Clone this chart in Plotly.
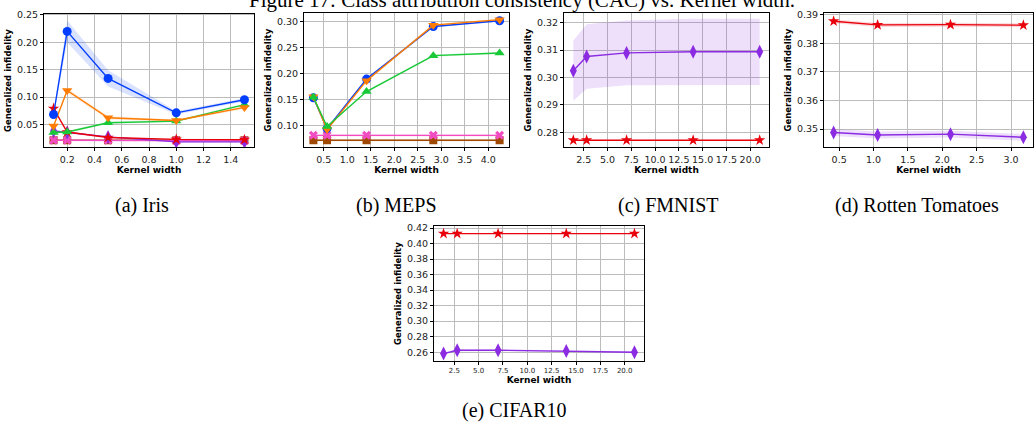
import plotly.graph_objects as go

W, H = 1034, 428

# ---------------- data ----------------
iris_x = [0.1, 0.2, 0.5, 1.0, 1.5]
iris_blue = [0.068, 0.220, 0.134, 0.071, 0.095]
iris_blue_sd = [0.003, 0.020, 0.015, 0.003, 0.003]
iris_orange = [0.047, 0.112, 0.062, 0.057, 0.081]
iris_orange_sd = [0.002, 0.004, 0.003, 0.002, 0.003]
iris_green = [0.035, 0.036, 0.053, 0.056, 0.086]
iris_green_sd = [0.002, 0.002, 0.002, 0.002, 0.002]
iris_red = [0.079, 0.036, 0.026, 0.0225, 0.022]
iris_red_sd = [0.002, 0.002, 0.001, 0.001, 0.001]
iris_purple = [0.038, 0.035, 0.027, 0.018, 0.018]
iris_purple_sd = [0.002, 0.002, 0.001, 0.001, 0.001]
iris_brown = [0.021, 0.021, 0.021, 0.021, 0.021]
iris_brown_sd = [0.001, 0.001, 0.001, 0.001, 0.001]
iris_pink = [0.021, 0.021, 0.021, 0.020, 0.020]
iris_pink_sd = [0.001, 0.001, 0.001, 0.001, 0.001]

meps_x = [0.28, 0.57, 1.41, 2.83, 4.24]
meps_blue = [0.154, 0.095, 0.190, 0.291, 0.302]
meps_orange = [0.156, 0.093, 0.187, 0.2935, 0.304]
meps_green = [0.155, 0.099, 0.166, 0.235, 0.240]
meps_pink = [0.082, 0.082, 0.082, 0.082, 0.082]
meps_brown = [0.0725, 0.0725, 0.0725, 0.0725, 0.0725]
meps_sd = [0.002, 0.002, 0.002, 0.002, 0.002]

fm_x = [1.4, 2.8, 7.0, 14.0, 21.0]
fm_purple = [0.3025, 0.3077, 0.3090, 0.3094, 0.3094]
fm_purple_sd = [0.0110, 0.0118, 0.0118, 0.0121, 0.0121]
fm_red = [0.2771, 0.2771, 0.2771, 0.2771, 0.2771]
fm_red_sd = [0.0002, 0.0002, 0.0002, 0.0002, 0.0002]

rt_x = [0.42, 1.06, 2.12, 3.18]
rt_red = [0.3877, 0.3864, 0.3865, 0.3863]
rt_red_sd = [0.0007, 0.0007, 0.0007, 0.0007]
rt_purple = [0.3488, 0.3479, 0.3482, 0.3471]
rt_purple_sd = [0.0012, 0.0012, 0.0012, 0.0012]

cf_x = [1.4, 2.8, 7.0, 14.0, 21.0]
cf_red = [0.4129, 0.4129, 0.4129, 0.4129, 0.4129]
cf_red_sd = [0.0005, 0.0005, 0.0005, 0.0005, 0.0005]
cf_purple = [0.2582, 0.2625, 0.2625, 0.2616, 0.2600]
cf_purple_sd = [0.0012, 0.0012, 0.0012, 0.0012, 0.0012]

sub_captions = ["(a) Iris", "(b) MEPS", "(c) FMNIST", "(d) Rotten Tomatoes", "(e) CIFAR10"]
title_text = "Figure 17: Class attribution consistency (CAC) vs. Kernel width."

# ---------------- styles ----------------
COL = {
    "blue": "#023eff", "orange": "#ff7c00", "green": "#1ac938", "red": "#e8000b",
    "purple": "#8b2be2", "brown": "#9f4800", "pink": "#f14cc1",
}
SYM = {
    "blue": "circle", "orange": "triangle-down", "green": "triangle-up", "red": "star",
    "purple": "diamond-tall", "brown": "square", "pink": "x",
}
SIZE = {"blue": 9, "orange": 9, "green": 9, "red": 8.5, "purple": 10, "brown": 8, "pink": 8}


def rgba(hexc, a):
    h = hexc.lstrip("#")
    return "rgba(%d,%d,%d,%.2f)" % (int(h[0:2], 16), int(h[2:4], 16), int(h[4:6], 16), a)


fig = go.Figure()


def add_series(ax, x, y, sd, key):
    xa = "x" if ax == 1 else "x%d" % ax
    ya = "y" if ax == 1 else "y%d" % ax
    up = [a + b for a, b in zip(y, sd)]
    lo = [a - b for a, b in zip(y, sd)]
    fig.add_trace(go.Scatter(x=x, y=lo, mode="lines", line=dict(width=0), xaxis=xa, yaxis=ya,
                             showlegend=False, hoverinfo="skip"))
    fig.add_trace(go.Scatter(x=x, y=up, mode="lines", line=dict(width=0), fill="tonexty",
                             fillcolor=rgba(COL[key], 0.15), xaxis=xa, yaxis=ya,
                             showlegend=False, hoverinfo="skip"))
    fig.add_trace(go.Scatter(x=x, y=y, mode="lines+markers", xaxis=xa, yaxis=ya,
                             line=dict(color=COL[key], width=1.4),
                             marker=dict(symbol=SYM[key], size=SIZE[key], color=COL[key],
                                         line=dict(width=0)),
                             showlegend=False))


# panel a
add_series(1, iris_x, iris_brown, iris_brown_sd, "brown")
add_series(1, iris_x, iris_pink, iris_pink_sd, "pink")
add_series(1, iris_x, iris_purple, iris_purple_sd, "purple")
add_series(1, iris_x, iris_red, iris_red_sd, "red")
add_series(1, iris_x, iris_green, iris_green_sd, "green")
add_series(1, iris_x, iris_orange, iris_orange_sd, "orange")
add_series(1, iris_x, iris_blue, iris_blue_sd, "blue")
# panel b
add_series(2, meps_x, meps_brown, meps_sd, "brown")
add_series(2, meps_x, meps_pink, meps_sd, "pink")
add_series(2, meps_x, meps_blue, meps_sd, "blue")
add_series(2, meps_x, meps_orange, meps_sd, "orange")
add_series(2, meps_x, meps_green, meps_sd, "green")
# panel c
add_series(3, fm_x, fm_red, fm_red_sd, "red")
add_series(3, fm_x, fm_purple, fm_purple_sd, "purple")
# panel d
add_series(4, rt_x, rt_red, rt_red_sd, "red")
add_series(4, rt_x, rt_purple, rt_purple_sd, "purple")
# panel e
add_series(5, cf_x, cf_red, cf_red_sd, "red")
add_series(5, cf_x, cf_purple, cf_purple_sd, "purple")


def px_dom_x(a, b):
    return [a / W, b / W]


def px_dom_y(top, bottom):
    return [1 - bottom / H, 1 - top / H]


panels = [
    # (xdomain px, ydomain px, xrange, yrange, xdtick, ydtick, xfmt, yfmt, xtickfont)
    ((44, 254), (9, 144), [0.03, 1.57], [0.008, 0.252], 0.2, 0.05, ".1f", ".2f", 9.5),
    ((304, 509), (8, 144), [0.08, 4.44], [0.059, 0.317], 0.5, 0.05, ".1f", ".2f", 9.5),
    ((564, 769), (8, 144), [0.42, 21.98], [0.2745, 0.3236], 2.5, 0.01, ".1f", ".2f", 9.5),
    ((824, 1033), (8, 144), [0.28, 3.32], [0.3436, 0.3906], 0.5, 0.01, ".1f", ".2f", 9.5),
    ((434, 644), (224, 360), [0.42, 21.98], [0.2489, 0.4222], 2.5, 0.02, ".1f", ".2f", 7),
]

TICKFONT = dict(family="DejaVu Sans", size=9.5, color="#222222")
GRID = "#bcbcbc"

for i, (xd, yd, xr, yr, xdt, ydt, xf, yf, xfs) in enumerate(panels, start=1):
    xk = "xaxis" if i == 1 else "xaxis%d" % i
    yk = "yaxis" if i == 1 else "yaxis%d" % i
    anchor_x = "y" if i == 1 else "y%d" % i
    anchor_y = "x" if i == 1 else "x%d" % i
    fig.layout[xk] = dict(
        domain=px_dom_x(*xd), range=xr, anchor=anchor_x, tick0=0, dtick=xdt, tickformat=xf,
        showgrid=True, gridcolor=GRID, gridwidth=1.3, zeroline=False,
        showline=True, linecolor="black", linewidth=1, mirror=True,
        ticks="outside", ticklen=3, tickcolor="black",
        tickfont=dict(family="DejaVu Sans", size=xfs, color="#222222"),
        title=dict(text="<b>Kernel width</b>", standoff=2,
                   font=dict(family="DejaVu Sans", size=9, color="black")),
    )
    fig.layout[yk] = dict(
        domain=px_dom_y(*yd), range=yr, anchor=anchor_y, tick0=0, dtick=ydt, tickformat=yf,
        showgrid=True, gridcolor=GRID, gridwidth=1.3, zeroline=False,
        showline=True, linecolor="black", linewidth=1, mirror=True,
        ticks="outside", ticklen=3, tickcolor="black",
        tickfont=TICKFONT,
        title=dict(text="<b>Generalized infidelity</b>", standoff=3,
                   font=dict(family="DejaVu Sans", size=8.5, color="black")),
    )

cap_pos = [(142, 203), (396, 203), (668, 203), (917, 203), (514, 410)]
annotations = []
for txt, (cx, cy) in zip(sub_captions, cap_pos):
    annotations.append(dict(text=txt, x=cx / W, y=1 - cy / H, xref="paper", yref="paper",
                            xanchor="center", yanchor="middle", showarrow=False,
                            font=dict(family="Liberation Serif", size=20, color="black")))
annotations.append(dict(text=title_text, x=522 / W, y=1 + 5 / H, xref="paper", yref="paper",
                        xanchor="center", yanchor="middle", showarrow=False,
                        font=dict(family="Liberation Serif", size=21, color="black")))

fig.update_layout(
    width=W, height=H, margin=dict(l=0, r=0, t=0, b=0),
    paper_bgcolor="white", plot_bgcolor="white",
    annotations=annotations, showlegend=False,
)

fig.write_html("out.html")
